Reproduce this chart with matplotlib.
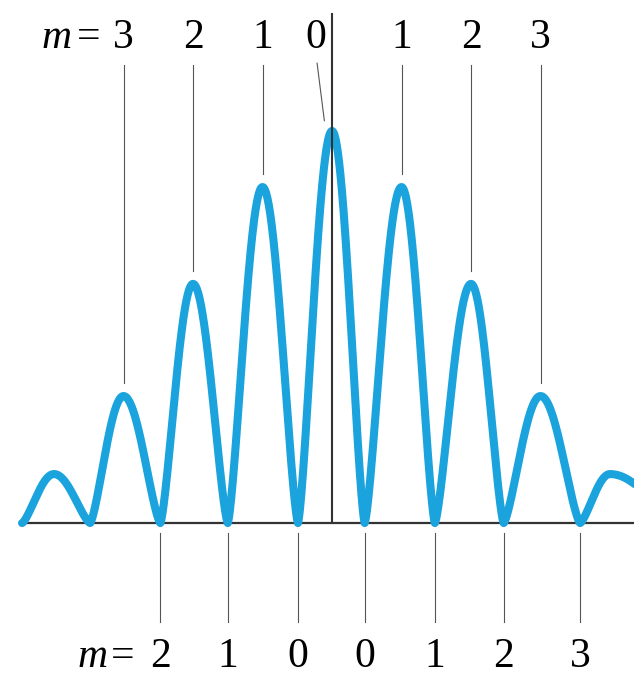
import numpy as np
import matplotlib
matplotlib.use('Agg')
import matplotlib.pyplot as plt

# Datos (posición en órdenes de franja, intensidad relativa)
peak_pos = [-4, -3, -2, -1, 0, 1, 2, 3, 4]
peak_height = [0.125, 0.324, 0.61, 0.857, 1.0, 0.857, 0.61, 0.324, 0.125]
min_pos = [-4.46, -3.48, -2.47, -1.50, -0.49, 0.47, 1.48, 2.47, 3.57, 5.0]

top_orders = ['3', '2', '1', '0', '1', '2', '3']      # máximos
bottom_orders = ['2', '1', '0', '0', '1', '2', '3']   # mínimos

plt.rcParams['font.family'] = ['Liberation Serif', 'DejaVu Serif']

fig = plt.figure(figsize=(6.34, 6.76), dpi=100)
ax = fig.add_axes([0, 0, 1, 1])
ax.set_xlim(-4.777, 4.345)
ax.set_ylim(-0.390, 1.334)
ax.axis('off')

blue = '#1aa3dc'
grey = '#555555'
dark = '#333333'
fs = 30
shape = 1.4  # forma del lóbulo (lóbulos algo más anchos que cos^2)

# Curva: cada lóbulo va de mínimo a máximo y vuelve al siguiente mínimo
xs, ys = [], []
for k in range(len(peak_pos)):
    a, p, b = min_pos[k], peak_pos[k], min_pos[k + 1]
    h = peak_height[k]
    xl = np.linspace(a, p, 80)
    xr = np.linspace(p, b, 80)[1:]
    xs += list(xl) + list(xr)
    ys += list(h * np.sin(np.pi / 2 * (xl - a) / (p - a)) ** shape)
    ys += list(h * np.sin(np.pi / 2 * (b - xr) / (b - p)) ** shape)
ax.plot(xs, ys, color=blue, lw=5.8, solid_capstyle='round', zorder=3)

# Línea base y eje central
ax.plot([min_pos[0], 5], [0, 0], color=dark, lw=1.6, zorder=2)
ax.plot([0, 0], [0, 1.298], color=dark, lw=1.5, zorder=4)

# Etiquetas superiores (máximos)
y_top = 1.237
top_peaks = peak_pos[1:8]
for i, (px, lab) in enumerate(zip(top_peaks, top_orders)):
    h = peak_height[i + 1]
    if lab == '0' and px == 0:
        tx = px - 0.23
        ax.text(tx, y_top, lab, ha='center', va='center', fontsize=fs)
        ax.plot([tx + 0.015, tx + 0.12], [1.173, 1.026], color=grey, lw=0.8)
    else:
        ax.text(px, y_top, lab, ha='center', va='center', fontsize=fs)
        ax.plot([px, px], [1.168, h + 0.033], color=grey, lw=0.8)
ax.annotate('m', xy=(top_peaks[0], y_top), xytext=(-67, 0),
            textcoords='offset pixels', ha='center', va='center',
            fontsize=fs, style='italic')
ax.annotate('=', xy=(top_peaks[0], y_top), xytext=(-35, 0),
            textcoords='offset pixels', ha='center', va='center', fontsize=fs)

# Etiquetas inferiores (mínimos)
y_bot = -0.342
bot_mins = min_pos[2:9]
for mx, lab in zip(bot_mins, bottom_orders):
    ax.plot([mx, mx], [-0.026, -0.253], color=grey, lw=0.8)
    ax.text(mx, y_bot, lab, ha='center', va='center', fontsize=fs)
ax.annotate('m', xy=(bot_mins[0], y_bot), xytext=(-68, 0),
            textcoords='offset pixels', ha='center', va='center',
            fontsize=fs, style='italic')
ax.annotate('=', xy=(bot_mins[0], y_bot), xytext=(-38, 0),
            textcoords='offset pixels', ha='center', va='center', fontsize=fs)

fig.savefig('out.png', dpi=100)
plt.close(fig)
